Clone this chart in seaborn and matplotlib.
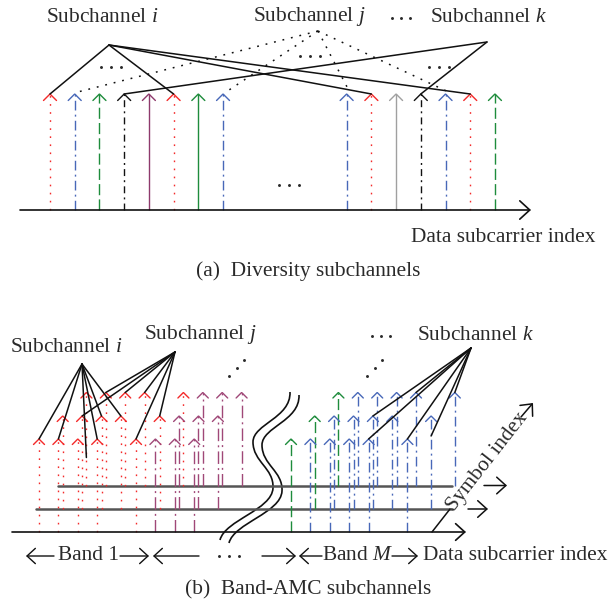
import numpy as np
import pandas as pd
import seaborn as sns
import matplotlib
matplotlib.use("Agg")
import matplotlib.pyplot as plt
from matplotlib.path import Path
from matplotlib.patches import PathPatch

# ---------------- data ----------------
# (a) Diversity subchannels: subcarrier index of each arrow and the subchannel kind it belongs to
top_index = [0, 1, 2, 3, 4, 5, 6, 7, 12, 13, 14, 15, 16, 17, 18]
top_kind = ["i", "j", "g", "k", "p", "i", "s", "j", "j", "i", "o", "k", "j", "i", "g"]
sub_i_members = [0, 5, 13, 17]
sub_j_members = [1, 7, 12, 16]
sub_k_members = [3, 15]

# (b) Band-AMC subchannels: symbols and subcarrier offsets inside each band
symbols = [0, 1, 2]
band1_red = [0, 1, 2, 3, 5]
band1_purple = [6, 7, 8]
bandM_green = [0]
bandM_blue = [1, 2, 3, 4, 6]
# links: (symbol, band, offset, depth below arrow tip)
links_i = [(0, "1", 0, 0), (0, "1", 1, 0), (2, "1", 0, 65), (0, "1", 3, 0), (1, "1", 2, 0), (1, "1", 3, 0)]
links_j = [(1, "1", 1, 0), (2, "1", 1, 0), (2, "1", 2, 0), (2, "1", 3, 0), (1, "1", 5, 0), (0, "1", 5, 0)]
links_k = [(0, "M", 4, 0), (1, "M", 3, 0), (2, "M", 4, 0), (0, "M", 6, 0), (1, "M", 6, 20), (2, "M", 6, 0)]

title_a = "(a)  Diversity subchannels"
title_b = "(b)  Band-AMC subchannels"
xlabel = "Data subcarrier index"
ylabel_b = "Symbol index"

# ---------------- style ----------------
sns.set_theme(style="white")
plt.rcParams["font.family"] = ["Liberation Serif", "DejaVu Serif"]
plt.rcParams["mathtext.fontset"] = "custom"
plt.rcParams["mathtext.rm"] = "Liberation Serif"
plt.rcParams["mathtext.it"] = "Liberation Serif:italic"

RED = "#f42a2a"
BLUE = "#4868b8"
GREEN = "#1e8c3c"
PURPLE = "#8e3a6c"
PURPLE_B = "#a04878"
GRAY = "#a0a0a0"
BLACK = "#111111"
TXT = "#2a2a2a"
FS = 15.4

DOT = (1.2, 4.6)
DASHDOT = (7, 3, 1.4, 3)
DASH = (8, 3)
KDASHDOT = (5, 3, 1.4, 3)
LONGDD = (9, 3, 1.4, 3)

kind_style = {
    "i": (RED, DOT),
    "j": (BLUE, DASHDOT),
    "g": (GREEN, DASH),
    "k": (BLACK, KDASHDOT),
    "p": (PURPLE, None),
    "s": (GREEN, None),
    "o": (GRAY, None),
}

fig = plt.figure(figsize=(6.16, 6.04), dpi=100)
ax = fig.add_axes([0, 0, 1, 1])
ax.set_xlim(0, 616)
ax.set_ylim(604, 0)
ax.axis("off")


def stem(x, y0, y1, color, dashes, hw, hh, lw=1.0):
    ln, = ax.plot([x, x], [y0, y1], color=color, lw=lw, solid_capstyle="butt")
    if dashes is not None:
        ln.set_dashes(dashes)
    ax.plot([x - hw, x, x + hw], [y1 + hh, y1, y1 + hh], color=color, lw=lw,
            solid_joinstyle="miter")


def arrow(x0, y0, x1, y1, color=BLACK, lw=1.0, hl=0.6, hw=0.55, ms=10):
    ax.annotate("", xy=(x1, y1), xytext=(x0, y0),
                arrowprops=dict(arrowstyle=f"->,head_length={hl},head_width={hw}",
                                color=color, lw=lw, shrinkA=0, shrinkB=0,
                                mutation_scale=ms))


def dots(cx, cy, n=3, step=10, angle=0.0, size=4.5):
    a = np.deg2rad(angle)
    k = np.arange(n) - (n - 1) / 2
    ax.scatter(cx + k * step * np.cos(a), cy - k * step * np.sin(a), s=size,
               color=TXT, zorder=5, linewidths=0)


# ---------------- panel (a) ----------------
TX0, TDX, TTIP, TBASE = 50.0, 24.72, 94.0, 210.0
def top_x(idx):
    return TX0 + TDX * idx

arrow(20, TBASE, 531, TBASE, lw=1.2, hl=0.6, hw=0.55, ms=12)
for idx, kind in zip(top_index, top_kind):
    c, d = kind_style[kind]
    stem(top_x(idx), TBASE, TTIP, c, d, 6.5, 6.5)

apex_i, apex_j, apex_k = (109, 45), (318, 31), (487, 42)
for idx in sub_i_members:
    ax.plot([apex_i[0], top_x(idx)], [apex_i[1], TTIP], color=BLACK, lw=1.1)
for idx in sub_j_members:
    ln, = ax.plot([apex_j[0], top_x(idx) + 3], [apex_j[1], TTIP - 2], color=BLACK, lw=1.1)
    ln.set_dashes((1.2, 4.5))
for idx in sub_k_members:
    ax.plot([apex_k[0], top_x(idx)], [apex_k[1], TTIP], color=BLACK, lw=1.1)

ax.text(102, 17, "Subchannel $\\mathit{i}$", fontsize=FS, color=TXT, ha="center", va="center")
ax.text(309, 17, "Subchannel $\\mathit{j}$", fontsize=FS, color=TXT, ha="center", va="center")
ax.text(488, 17, "Subchannel $\\mathit{k}$", fontsize=FS, color=TXT, ha="center", va="center")
dots(401, 18, step=9)
dots(111, 67, step=10)
dots(310, 56, step=10)
dots(439, 67, step=10)
dots(289, 185, step=10)
ax.text(411, 237, xlabel, fontsize=FS, color=TXT, ha="left", va="center")
ax.text(308, 271, title_a, fontsize=FS, color=TXT, ha="center", va="center")

# ---------------- panel (b) ----------------
B1X0, BMX0, BDX = 39.0, 291.0, 19.4
ROW_DX, ROW_TIP = 23.7, [439.0, 416.0, 392.5]
ROW_BASE = [532.0, 509.0, 485.5]


def b_x(sym, band, off):
    return (B1X0 if band == "1" else BMX0) + BDX * off + ROW_DX * sym


# base lines
arrow(12, ROW_BASE[0], 466, ROW_BASE[0], lw=1.2, hl=0.55, hw=0.5, ms=12)
ax.plot([36, 452], [ROW_BASE[1]] * 2, color="#555555", lw=1.8)
ax.plot([58, 452], [ROW_BASE[2]] * 2, color="#555555", lw=1.8)
ax.plot([432, 450], [ROW_BASE[0], ROW_BASE[1]], color=BLACK, lw=1.1)
arrow(468, ROW_BASE[1], 488, ROW_BASE[1], lw=1.1, hl=0.55, hw=0.5, ms=12)
arrow(484, ROW_BASE[2], 507, ROW_BASE[2], lw=1.1, hl=0.55, hw=0.5, ms=12)

for s in symbols[::-1]:
    for off in band1_red:
        stem(b_x(s, "1", off), ROW_BASE[s], ROW_TIP[s], RED, DOT, 5.5, 5.5)
    for off in band1_purple:
        stem(b_x(s, "1", off), ROW_BASE[s], ROW_TIP[s], PURPLE_B, LONGDD, 5.5, 5.5)
    for off in bandM_green:
        stem(b_x(s, "M", off), ROW_BASE[s], ROW_TIP[s], GREEN, DASH, 5.5, 5.5)
    for off in bandM_blue:
        stem(b_x(s, "M", off), ROW_BASE[s], ROW_TIP[s], BLUE, DASHDOT, 5.5, 5.5)

bapex_i, bapex_j, bapex_k = (82, 364), (175, 352), (471, 348)
for apex, links in ((bapex_i, links_i), (bapex_j, links_j), (bapex_k, links_k)):
    for s, band, off, depth in links:
        ax.plot([apex[0], b_x(s, band, off)], [apex[1], ROW_TIP[s] + depth],
                color=BLACK, lw=1.1)

# wavy break
for dx, dy in ((0, 0), (9, 3)):
    verts = [(290, 392), (291, 418), (253, 424), (253, 442),
             (253, 462), (274, 468), (273, 488),
             (272, 510), (225, 520), (220, 540)]
    verts = [(x + dx, y + dy) for x, y in verts]
    codes = [Path.MOVETO] + [Path.CURVE4] * 9
    ax.add_patch(PathPatch(Path(verts, codes), fill=False, lw=1.2, color=BLACK))

ax.text(66, 347, "Subchannel $\\mathit{i}$", fontsize=FS, color=TXT, ha="center", va="center")
ax.text(200, 335, "Subchannel $\\mathit{j}$", fontsize=FS, color=TXT, ha="center", va="center")
ax.text(475, 335, "Subchannel $\\mathit{k}$", fontsize=FS, color=TXT, ha="center", va="center")
dots(381, 336, step=9)
dots(236.7, 368, step=11, angle=45)
dots(374.7, 368, step=11, angle=45)

ax.text(487, 462, ylabel_b, fontsize=FS, color=TXT, ha="center", va="center",
        rotation=52, rotation_mode="anchor")
arrow(521, 417, 533, 403, lw=1.1, hl=0.55, hw=0.5, ms=12)

# band labels row
LY = 556
arrow(54, LY, 26, LY)
ax.text(89, LY, "Band 1", fontsize=FS, color=TXT, ha="center", va="center")
arrow(120, LY, 149, LY)
arrow(199, LY, 153, LY)
dots(229, LY, step=10)
arrow(262, LY, 296, LY)
arrow(322, LY, 299, LY)
ax.text(358, LY, "Band $\\mathit{M}$", fontsize=FS, color=TXT, ha="center", va="center")
arrow(392, LY, 418, LY)
ax.text(423, LY, xlabel, fontsize=FS, color=TXT, ha="left", va="center")
ax.text(308, 590, title_b, fontsize=FS, color=TXT, ha="center", va="center")

fig.savefig("out.png", dpi=100, facecolor="white")
